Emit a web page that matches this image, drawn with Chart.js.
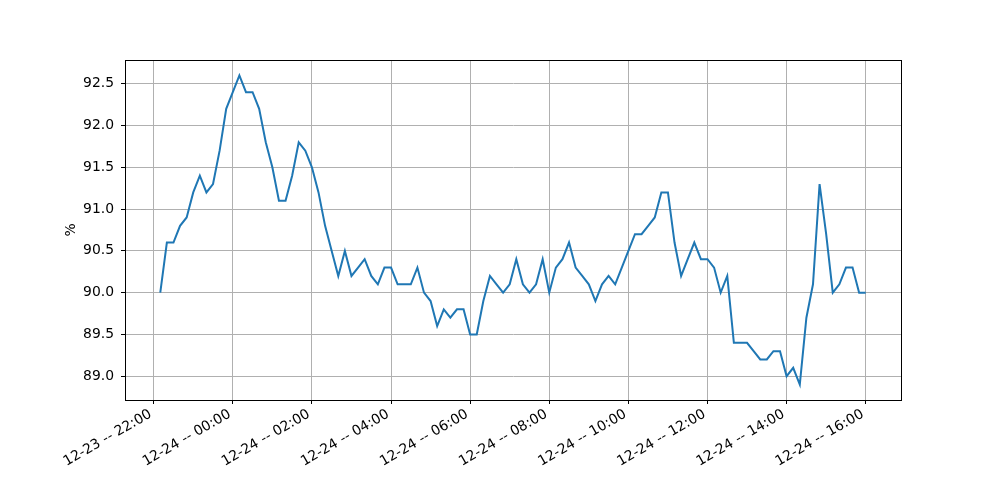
<!DOCTYPE html>
<html>
<head>
<meta charset="utf-8">
<script src="https://cdn.jsdelivr.net/npm/chart.js@4"></script>
<style>
  html, body { margin: 0; padding: 0; background: #ffffff; }
  #wrap { width: 1000px; height: 500px; }
</style>
</head>
<body>
<div id="wrap"><canvas id="lineChartCanvas" width="1000" height="500"></canvas></div>
<script>
// time of first sample in minutes after 12-23 00:00 (22:10), samples every 10 minutes
const startMinute = 1330;
const stepMinutes = 10;

// readings in %
const values = [
  90.0, 90.6, 90.6, 90.8, 90.9, 91.2, 91.4, 91.2, 91.3, 91.7,
  92.2, 92.4, 92.6, 92.4, 92.4, 92.2, 91.8, 91.5, 91.1, 91.1,
  91.4, 91.8, 91.7, 91.5, 91.2, 90.8, 90.5, 90.2, 90.5, 90.2,
  90.3, 90.4, 90.2, 90.1, 90.3, 90.3, 90.1, 90.1, 90.1, 90.3,
  90.0, 89.9, 89.6, 89.8, 89.7, 89.8, 89.8, 89.5, 89.5, 89.9,
  90.2, 90.1, 90.0, 90.1, 90.4, 90.1, 90.0, 90.1, 90.4, 90.0,
  90.3, 90.4, 90.6, 90.3, 90.2, 90.1, 89.9, 90.1, 90.2, 90.1,
  90.3, 90.5, 90.7, 90.7, 90.8, 90.9, 91.2, 91.2, 90.6, 90.2,
  90.4, 90.6, 90.4, 90.4, 90.3, 90.0, 90.2, 89.4, 89.4, 89.4,
  89.3, 89.2, 89.2, 89.3, 89.3, 89.0, 89.1, 88.9, 89.7, 90.1,
  91.3, 90.7, 90.0, 90.1, 90.3, 90.3, 90.0, 90.0
];

// x tick positions (minutes after 12-23 00:00) and their labels
const xTickMinutes = [1320, 1440, 1560, 1680, 1800, 1920, 2040, 2160, 2280, 2400];
const xTickLabels = [
  "12-23 -- 22:00", "12-24 -- 00:00", "12-24 -- 02:00", "12-24 -- 04:00", "12-24 -- 06:00",
  "12-24 -- 08:00", "12-24 -- 10:00", "12-24 -- 12:00", "12-24 -- 14:00", "12-24 -- 16:00"
];
const yTickValues = [89.0, 89.5, 90.0, 90.5, 91.0, 91.5, 92.0, 92.5];

const points = values.map((v, i) => ({ x: startMinute + i * stepMinutes, y: v }));

// matplotlib style 5% margins
const xFirst = points[0].x, xLast = points[points.length - 1].x;
const xPad = (xLast - xFirst) * 0.05;
const yMin = Math.min(...values), yMax = Math.max(...values);
const yPad = (yMax - yMin) * 0.05;

const font = { family: "'DejaVu Sans', sans-serif", size: 13.9 };

// black box round the plot area
const frame = {
  id: "frame",
  afterDraw(chart) {
    const { ctx, chartArea: a } = chart;
    ctx.save();
    ctx.strokeStyle = "#000000";
    ctx.lineWidth = 1;
    ctx.strokeRect(Math.round(a.left) + 0.5, Math.round(a.top) + 0.5,
      Math.round(a.right - a.left), Math.round(a.bottom - a.top));
    ctx.restore();
  },
};

const lineChart = new Chart(document.getElementById("lineChartCanvas"), {
  type: "line",
  data: {
    datasets: [
      {
        data: points,
        borderColor: "#1f77b4",
        borderWidth: 2,
        fill: false,
        tension: 0,
        pointRadius: 0,
      },
    ],
  },
  options: {
    responsive: false,
    animation: false,
    layout: { padding: { left: 58, top: 60, right: 99, bottom: 0 } },
    scales: {
      x: {
        type: "linear",
        min: xFirst - xPad,
        max: xLast + xPad,
        afterBuildTicks: (axis) => { axis.ticks = xTickMinutes.map((v) => ({ value: v })); },
        afterFit: (axis) => { axis.height = 100; },
        grid: { color: "#b0b0b0", lineWidth: 1, tickColor: "#000000", tickLength: 4 },
        border: { color: "#000000" },
        ticks: {
          color: "#000000",
          font: font,
          minRotation: 30,
          maxRotation: 30,
          padding: 2,
          labelOffset: -3,
          autoSkip: false,
          callback: (v) => xTickLabels[xTickMinutes.indexOf(v)],
        },
      },
      y: {
        min: yMin - yPad,
        max: yMax + yPad,
        afterBuildTicks: (axis) => { axis.ticks = yTickValues.map((v) => ({ value: v })); },
        afterFit: (axis) => { axis.width = 67; },
        grid: { color: "#b0b0b0", lineWidth: 1, tickColor: "#000000", tickLength: 4 },
        border: { color: "#000000" },
        ticks: {
          color: "#000000",
          font: font,
          padding: 7,
          callback: (v) => v.toFixed(1),
        },
        title: {
          display: true,
          text: "%",
          color: "#000000",
          font: font,
          padding: { top: 5, bottom: 0 },
        },
      },
    },
    plugins: {
      legend: { display: false },
      tooltip: { enabled: false },
    },
  },
  plugins: [frame],
});
</script>
</body>
</html>
